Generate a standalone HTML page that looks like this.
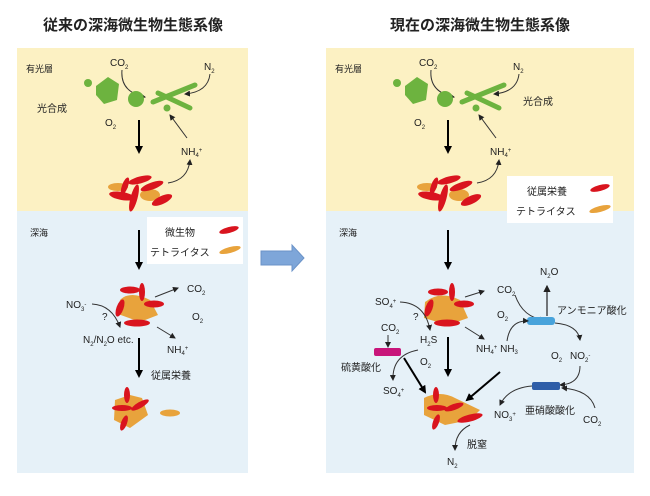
<!DOCTYPE html><html><head><meta charset="utf-8"><style>body{margin:0;background:#fff}svg{display:block}text{font-family:"Liberation Sans","Noto Sans CJK JP",sans-serif;fill:#222}</style></head><body>
<svg width="650" height="496" viewBox="0 0 650 496" xmlns="http://www.w3.org/2000/svg">
<defs>
<marker id="a" markerWidth="6" markerHeight="6" refX="5" refY="3" orient="auto"><path d="M0,0L6,3L0,6z" fill="#222"/></marker>
<marker id="b" markerWidth="4" markerHeight="4" refX="3" refY="2" orient="auto"><path d="M0,0L4,2L0,4z" fill="#000"/></marker>
<g id="top">
<text x="110" y="66" font-size="10">CO<tspan font-size="6" dy="3">2</tspan></text>
<text x="204" y="70" font-size="10">N<tspan font-size="6" dy="3">2</tspan></text>
<path d="M122,70 Q120,92 145,97" fill="none" stroke="#333" stroke-width="1" marker-end="url(#a)"/>
<path d="M210,74 Q208,92 185,94" fill="none" stroke="#333" stroke-width="1" marker-end="url(#a)"/>
<circle cx="88" cy="83" r="4" fill="#6db33f"/>
<path d="M96,86 L108,77 L119,84 L117,100 L104,104 L96,95z" fill="#6db33f"/>
<circle cx="136" cy="99" r="8" fill="#6db33f"/>
<line x1="153" y1="102" x2="195" y2="85" stroke="#6db33f" stroke-width="5" stroke-linecap="round"/>
<line x1="158" y1="93" x2="190" y2="108" stroke="#6db33f" stroke-width="5" stroke-linecap="round"/>
<circle cx="167" cy="108" r="3.5" fill="#6db33f"/>
<text x="105" y="126" font-size="10">O<tspan font-size="6" dy="3">2</tspan></text>
<line x1="139" y1="120" x2="139" y2="152" stroke="#000" stroke-width="2" marker-end="url(#b)"/>
<text x="181" y="155" font-size="10">NH<tspan font-size="6" dy="2">4</tspan><tspan font-size="6" dy="-5">+</tspan></text>
<path d="M187,138 L170,115" stroke="#333" stroke-width="1" marker-end="url(#a)"/>
<path d="M168,183 Q188,180 190,160" fill="none" stroke="#333" stroke-width="1" marker-end="url(#a)"/>
<ellipse cx="118" cy="187" rx="10" ry="4" fill="#e8a33c"/>
<ellipse cx="150" cy="195" rx="10" ry="6" fill="#e8a33c"/>
<ellipse cx="140" cy="180" rx="12" ry="3.5" fill="#d9141e" transform="rotate(-15 140 180)"/>
<ellipse cx="152" cy="186" rx="12" ry="3.5" fill="#d9141e" transform="rotate(-20 152 186)"/>
<ellipse cx="122" cy="196" rx="13" ry="4" fill="#d9141e" transform="rotate(10 122 196)"/>
<ellipse cx="134" cy="198" rx="3.5" ry="14" fill="#d9141e" transform="rotate(15 134 198)"/>
<ellipse cx="125" cy="186" rx="3" ry="9" fill="#d9141e" transform="rotate(20 125 186)"/>
<ellipse cx="162" cy="200" rx="11" ry="4" fill="#d9141e" transform="rotate(-25 162 200)"/>
<text x="26" y="72" font-size="9">有光層</text>
</g>
</defs>
<text x="133" y="30" font-size="15" font-weight="bold" text-anchor="middle">従来の深海微生物生態系像</text>
<text x="480" y="30" font-size="15" font-weight="bold" text-anchor="middle">現在の深海微生物生態系像</text>
<rect x="17" y="48" width="231" height="163" fill="#fcf1c3"/>
<rect x="17" y="211" width="231" height="262" fill="#e6f1f8"/>
<rect x="326" y="48" width="308" height="163" fill="#fcf1c3"/>
<rect x="326" y="211" width="308" height="262" fill="#e6f1f8"/>
<use href="#top"/>
<use href="#top" x="309"/>
<text x="37" y="112" font-size="10">光合成</text>
<text x="523" y="105" font-size="10">光合成</text>
<path d="M261,251 H292 V245 L304,258 L292,271 V265 H261z" fill="#7ea6d9" stroke="#6b93c8"/>
<!-- left deep -->
<text x="30" y="236" font-size="9">深海</text>
<rect x="147" y="217" width="96" height="47" fill="#fff"/>
<text x="165" y="236" font-size="10">微生物</text>
<text x="150" y="256" font-size="10">テトライタス</text>
<ellipse cx="229" cy="230" rx="10" ry="3" fill="#d9141e" transform="rotate(-15 229 230)"/>
<ellipse cx="230" cy="250" rx="11" ry="3" fill="#e8a33c" transform="rotate(-15 230 250)"/>
<line x1="139" y1="230" x2="139" y2="268" stroke="#000" stroke-width="2" marker-end="url(#b)"/>
<path d="M120,300 Q130,290 150,300 L158,315 L140,322 L118,314z" fill="#e8a33c"/>
<ellipse cx="130" cy="290" rx="10" ry="3.5" fill="#d9141e"/>
<ellipse cx="142" cy="292" rx="3" ry="9" fill="#d9141e"/>
<ellipse cx="154" cy="304" rx="10" ry="3.5" fill="#d9141e"/>
<ellipse cx="120" cy="308" rx="3.5" ry="9" fill="#d9141e" transform="rotate(20 120 308)"/>
<ellipse cx="137" cy="323" rx="13" ry="3.5" fill="#d9141e"/>
<path d="M155,297 L178,288" stroke="#333" marker-end="url(#a)"/>
<text x="187" y="292" font-size="10">CO<tspan font-size="6" dy="3">2</tspan></text>
<text x="192" y="320" font-size="10">O<tspan font-size="6" dy="3">2</tspan></text>
<text x="66" y="308" font-size="10">NO<tspan font-size="6" dy="3">3</tspan><tspan font-size="6" dy="-5">-</tspan></text>
<text x="102" y="320" font-size="10">?</text>
<path d="M92,304 Q112,305 120,327" fill="none" stroke="#333" marker-end="url(#a)"/>
<text x="83" y="343" font-size="10">N<tspan font-size="6" dy="3">2</tspan><tspan dy="-3">/N</tspan><tspan font-size="6" dy="3">2</tspan><tspan dy="-3">O etc.</tspan></text>
<path d="M157,327 L175,338" stroke="#333" marker-end="url(#a)"/>
<text x="167" y="353" font-size="10">NH<tspan font-size="6" dy="2">4</tspan><tspan font-size="6" dy="-5">+</tspan></text>
<line x1="139" y1="338" x2="139" y2="376" stroke="#000" stroke-width="2" marker-end="url(#b)"/>
<text x="151" y="379" font-size="10">従属栄養</text>
<path d="M115,400 L130,395 L142,398 L148,415 L130,428 L114,420z" fill="#e8a33c"/>
<ellipse cx="127" cy="395" rx="3" ry="8" fill="#d9141e"/>
<ellipse cx="122" cy="408" rx="10" ry="3" fill="#d9141e"/>
<ellipse cx="140" cy="405" rx="10" ry="3" fill="#d9141e" transform="rotate(-30 140 405)"/>
<ellipse cx="124" cy="423" rx="3" ry="8" fill="#d9141e" transform="rotate(20 124 423)"/>
<ellipse cx="170" cy="413" rx="10" ry="3.5" fill="#e8a33c"/>
<!-- right deep -->
<rect x="507" y="176" width="106" height="47" fill="#fff"/>
<text x="527" y="195" font-size="10">従属栄養</text>
<text x="516" y="215" font-size="10">テトライタス</text>
<ellipse cx="600" cy="188" rx="10" ry="3" fill="#d9141e" transform="rotate(-15 600 188)"/>
<ellipse cx="600" cy="209" rx="11" ry="3" fill="#e8a33c" transform="rotate(-15 600 209)"/>
<text x="339" y="236" font-size="9">深海</text>
<line x1="448" y1="230" x2="448" y2="268" stroke="#000" stroke-width="2" marker-end="url(#b)"/>
<path d="M425,302 Q440,290 460,300 L468,318 L448,325 L424,318z" fill="#e8a33c"/>
<ellipse cx="438" cy="292" rx="10" ry="3.5" fill="#d9141e"/>
<ellipse cx="452" cy="292" rx="3" ry="9" fill="#d9141e"/>
<ellipse cx="464" cy="304" rx="10" ry="3.5" fill="#d9141e"/>
<ellipse cx="429" cy="308" rx="3.5" ry="9" fill="#d9141e" transform="rotate(20 429 308)"/>
<ellipse cx="447" cy="323" rx="13" ry="3.5" fill="#d9141e"/>
<path d="M465,297 L484,291" stroke="#333" marker-end="url(#a)"/>
<text x="497" y="293" font-size="10">CO<tspan font-size="6" dy="3">2</tspan></text>
<text x="375" y="305" font-size="10">SO<tspan font-size="6" dy="3">4</tspan><tspan font-size="6" dy="-5">+</tspan></text>
<text x="413" y="320" font-size="10">?</text>
<path d="M400,302 Q425,303 430,330" fill="none" stroke="#333" marker-end="url(#a)"/>
<text x="420" y="343" font-size="10">H<tspan font-size="6" dy="3">2</tspan><tspan dy="-3">S</tspan></text>
<path d="M465,327 L484,339" stroke="#333" marker-end="url(#a)"/>
<text x="476" y="352" font-size="10">NH<tspan font-size="6" dy="2">4</tspan><tspan font-size="6" dy="-5">+</tspan><tspan dy="3"> NH</tspan><tspan font-size="6" dy="2">3</tspan></text>
<text x="381" y="331" font-size="10">CO<tspan font-size="6" dy="3">2</tspan></text>
<line x1="388" y1="335" x2="388" y2="347" stroke="#333" marker-end="url(#a)"/>
<rect x="374" y="348" width="27" height="8" rx="2" fill="#c8157a"/>
<text x="420" y="365" font-size="10">O<tspan font-size="6" dy="3">2</tspan></text>
<path d="M418,350 Q392,355 393,380" fill="none" stroke="#333" marker-end="url(#a)"/>
<text x="341" y="371" font-size="10">硫黄酸化</text>
<text x="383" y="394" font-size="10">SO<tspan font-size="6" dy="3">4</tspan><tspan font-size="6" dy="-5">+</tspan></text>
<line x1="448" y1="337" x2="448" y2="375" stroke="#000" stroke-width="2" marker-end="url(#b)"/>
<line x1="404" y1="358" x2="425" y2="392" stroke="#000" stroke-width="2" marker-end="url(#b)"/>
<line x1="500" y1="372" x2="467" y2="400" stroke="#000" stroke-width="2" marker-end="url(#b)"/>
<path d="M424,398 Q440,390 455,398 L480,410 L470,420 L445,425 L424,415z" fill="#e8a33c"/>
<ellipse cx="436" cy="395" rx="3" ry="8" fill="#d9141e"/>
<ellipse cx="437" cy="408" rx="10" ry="3" fill="#d9141e"/>
<ellipse cx="454" cy="407" rx="10" ry="3" fill="#d9141e" transform="rotate(-20 454 407)"/>
<ellipse cx="436" cy="422" rx="3" ry="8" fill="#d9141e" transform="rotate(20 436 422)"/>
<ellipse cx="470" cy="418" rx="13" ry="3.5" fill="#d9141e" transform="rotate(-15 470 418)"/>
<path d="M470,425 Q455,432 455,450" fill="none" stroke="#333" marker-end="url(#a)"/>
<text x="467" y="448" font-size="10">脱窒</text>
<text x="447" y="465" font-size="10">N<tspan font-size="6" dy="3">2</tspan></text>
<text x="497" y="318" font-size="10">O<tspan font-size="6" dy="3">2</tspan></text>
<path d="M515,295 Q523,318 545,320" fill="none" stroke="#333" marker-end="url(#a)"/>
<rect x="527" y="317" width="28" height="8" rx="3" fill="#48a3db"/>
<line x1="547" y1="316" x2="547" y2="286" stroke="#222" stroke-width="1.2" marker-end="url(#a)"/>
<text x="540" y="275" font-size="10">N<tspan font-size="6" dy="3">2</tspan><tspan dy="-3">O</tspan></text>
<text x="557" y="314" font-size="10">アンモニア酸化</text>
<path d="M507,341 Q510,320 528,321" fill="none" stroke="#333" marker-end="url(#a)"/>
<path d="M555,323 Q578,325 580,340" fill="none" stroke="#333" marker-end="url(#a)"/>
<text x="551" y="359" font-size="10">O<tspan font-size="6" dy="3">2</tspan></text>
<text x="570" y="359" font-size="10">NO<tspan font-size="6" dy="3">2</tspan><tspan font-size="6" dy="-5">-</tspan></text>
<path d="M580,366 Q580,384 560,385" fill="none" stroke="#333" marker-end="url(#a)"/>
<rect x="532" y="382" width="28" height="8" rx="2" fill="#2f5ea8"/>
<path d="M532,386 Q508,388 500,405" fill="none" stroke="#333" marker-end="url(#a)"/>
<path d="M595,408 Q590,390 562,388" fill="none" stroke="#333" marker-end="url(#a)"/>
<text x="494" y="418" font-size="10">NO<tspan font-size="6" dy="3">3</tspan><tspan font-size="6" dy="-5">+</tspan></text>
<text x="525" y="414" font-size="10">亜硝酸酸化</text>
<text x="583" y="423" font-size="10">CO<tspan font-size="6" dy="3">2</tspan></text>
</svg></body></html>
